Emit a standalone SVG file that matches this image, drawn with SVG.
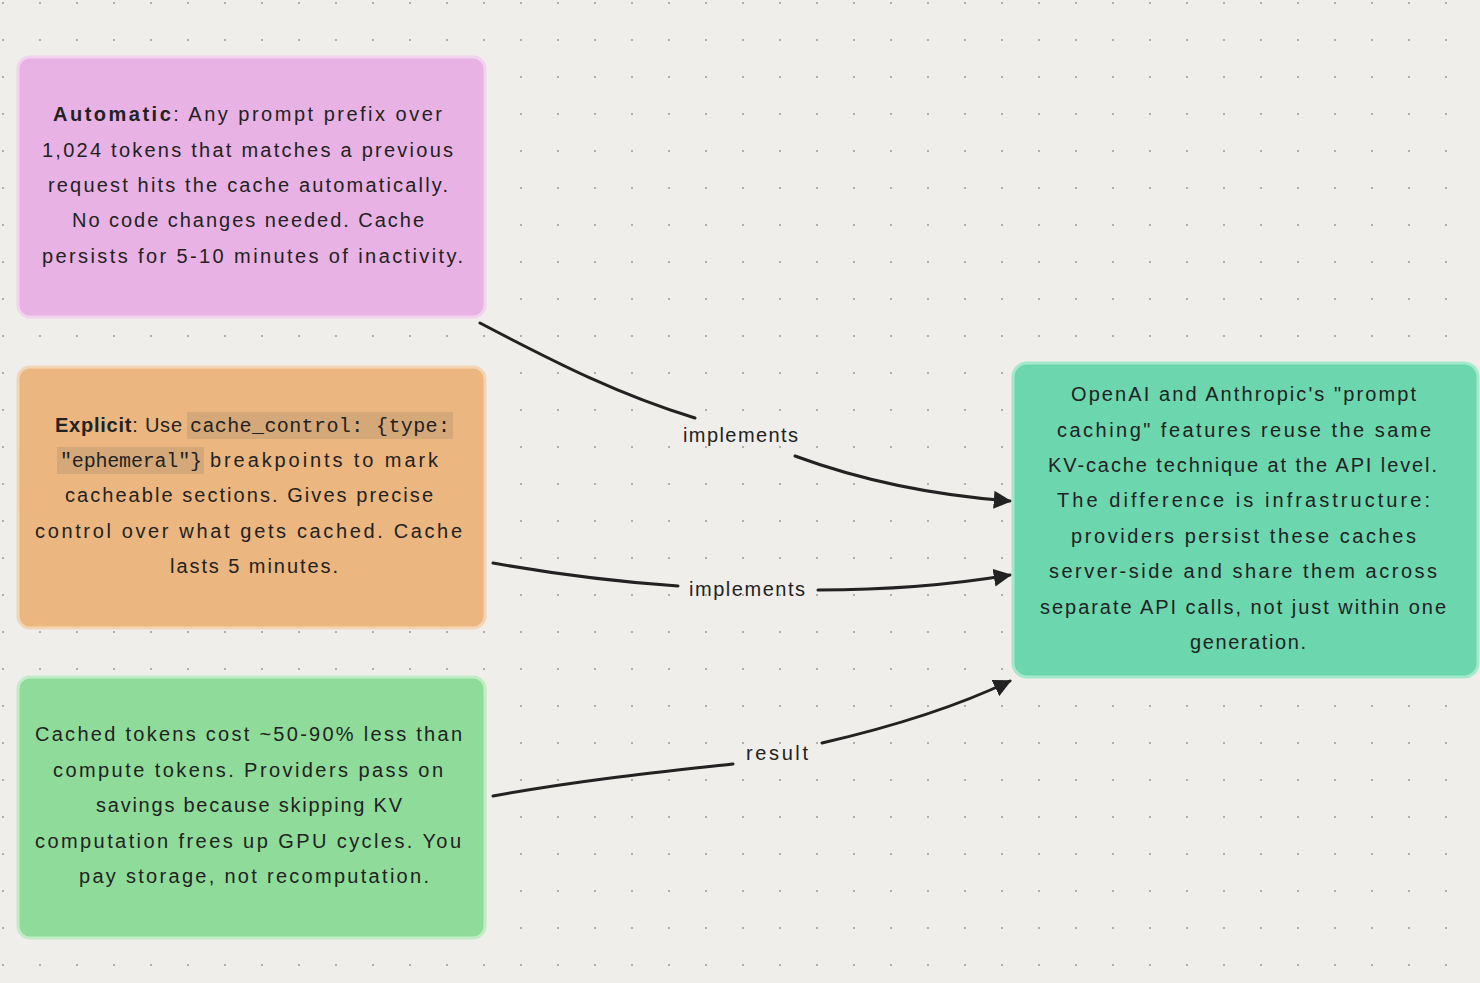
<svg xmlns="http://www.w3.org/2000/svg" width="1480" height="983" viewBox="0 0 1480 983">
<defs>
<pattern id="dots" width="37" height="37" patternUnits="userSpaceOnUse" x="2" y="2"><circle cx="1" cy="1" r="1" fill="#9a9a9a"/></pattern>
<marker id="arr" viewBox="0 0 10 10" refX="9" refY="5" markerWidth="18" markerHeight="18" orient="auto" markerUnits="userSpaceOnUse"><path d="M0,0 L10,5 L0,10 z" fill="#222"/></marker>
</defs>
<style>
.t{font-family:"Liberation Sans",Arial,sans-serif;font-size:20px;fill:#222}
.b{font-weight:bold}
.m{font-family:"Liberation Mono",monospace;font-size:20px;fill:#222}
.e{fill:none;stroke:#222;stroke-width:3;stroke-linecap:round}
</style>
<rect width="1480" height="983" fill="#efeeea"/>
<rect width="1480" height="983" fill="url(#dots)"/>
<g id="edges">
<path class="e" d="M480,323 C560,365 620,395 695,418"/>
<path class="e" d="M795,456 C860,480 930,495 1010,501" marker-end="url(#arr)"/>
<text class="t" x="683" y="442" textLength="115">implements</text>
<path class="e" d="M493,563 C560,575 620,582 678,586"/>
<path class="e" d="M818,590 C880,590 950,585 1010,575" marker-end="url(#arr)"/>
<text class="t" x="689" y="596" textLength="116">implements</text>
<path class="e" d="M493,796 C580,780 660,772 733,764"/>
<path class="e" d="M822,743 C900,725 960,705 1010,681" marker-end="url(#arr)"/>
<text class="t" x="746" y="760" textLength="62">result</text>
</g>
<g id="n1">
<rect x="18" y="57" width="467" height="260" rx="12" fill="#e8b2e4" stroke="#f2d2ee" stroke-width="3"/>
<text class="t" x="53" y="121" textLength="389"><tspan class="b">Automatic</tspan>: Any prompt prefix over</text>
<text class="t" x="42" y="157" textLength="411">1,024 tokens that matches a previous</text>
<text class="t" x="48" y="192" textLength="400">request hits the cache automatically.</text>
<text class="t" x="72" y="227" textLength="352">No code changes needed. Cache</text>
<text class="t" x="42" y="263" textLength="421">persists for 5-10 minutes of inactivity.</text>
</g>
<g id="n2">
<rect x="18" y="367" width="467" height="261" rx="12" fill="#ebb67f" stroke="#f3d4b4" stroke-width="3"/>
<rect x="187" y="412" width="266" height="27" fill="#d5a87a"/>
<rect x="57" y="447" width="147" height="27" fill="#d5a87a"/>
<text class="t" x="55" y="432" textLength="127"><tspan class="b">Explicit</tspan>: Use</text>
<text class="m" x="190" y="432" textLength="260">cache_control: {type:</text>
<text class="m" x="60" y="467" textLength="142">"ephemeral"}</text>
<text class="t" x="210" y="467" textLength="228">breakpoints to mark</text>
<text class="t" x="65" y="502" textLength="368">cacheable sections. Gives precise</text>
<text class="t" x="35" y="538" textLength="427">control over what gets cached. Cache</text>
<text class="t" x="170" y="573" textLength="168">lasts 5 minutes.</text>
</g>
<g id="n3">
<rect x="18" y="677" width="467" height="261" rx="12" fill="#8fdc9a" stroke="#c0ecc6" stroke-width="3"/>
<text class="t" x="35" y="741" textLength="427">Cached tokens cost ~50-90% less than</text>
<text class="t" x="53" y="777" textLength="390">compute tokens. Providers pass on</text>
<text class="t" x="96" y="812" textLength="306">savings because skipping KV</text>
<text class="t" x="35" y="848" textLength="426">computation frees up GPU cycles. You</text>
<text class="t" x="79" y="883" textLength="350">pay storage, not recomputation.</text>
</g>
<g id="n4">
<rect x="1013" y="363" width="465" height="314" rx="14" fill="#6cd6ae" stroke="#a6e8cc" stroke-width="3"/>
<text class="t" x="1071" y="401" textLength="345">OpenAI and Anthropic's "prompt</text>
<text class="t" x="1057" y="437" textLength="374">caching" features reuse the same</text>
<text class="t" x="1048" y="472" textLength="389">KV-cache technique at the API level.</text>
<text class="t" x="1057" y="507" textLength="373">The difference is infrastructure:</text>
<text class="t" x="1071" y="543" textLength="345">providers persist these caches</text>
<text class="t" x="1049" y="578" textLength="388">server-side and share them across</text>
<text class="t" x="1040" y="614" textLength="406">separate API calls, not just within one</text>
<text class="t" x="1190" y="649" textLength="116">generation.</text>
</g>
</svg>
